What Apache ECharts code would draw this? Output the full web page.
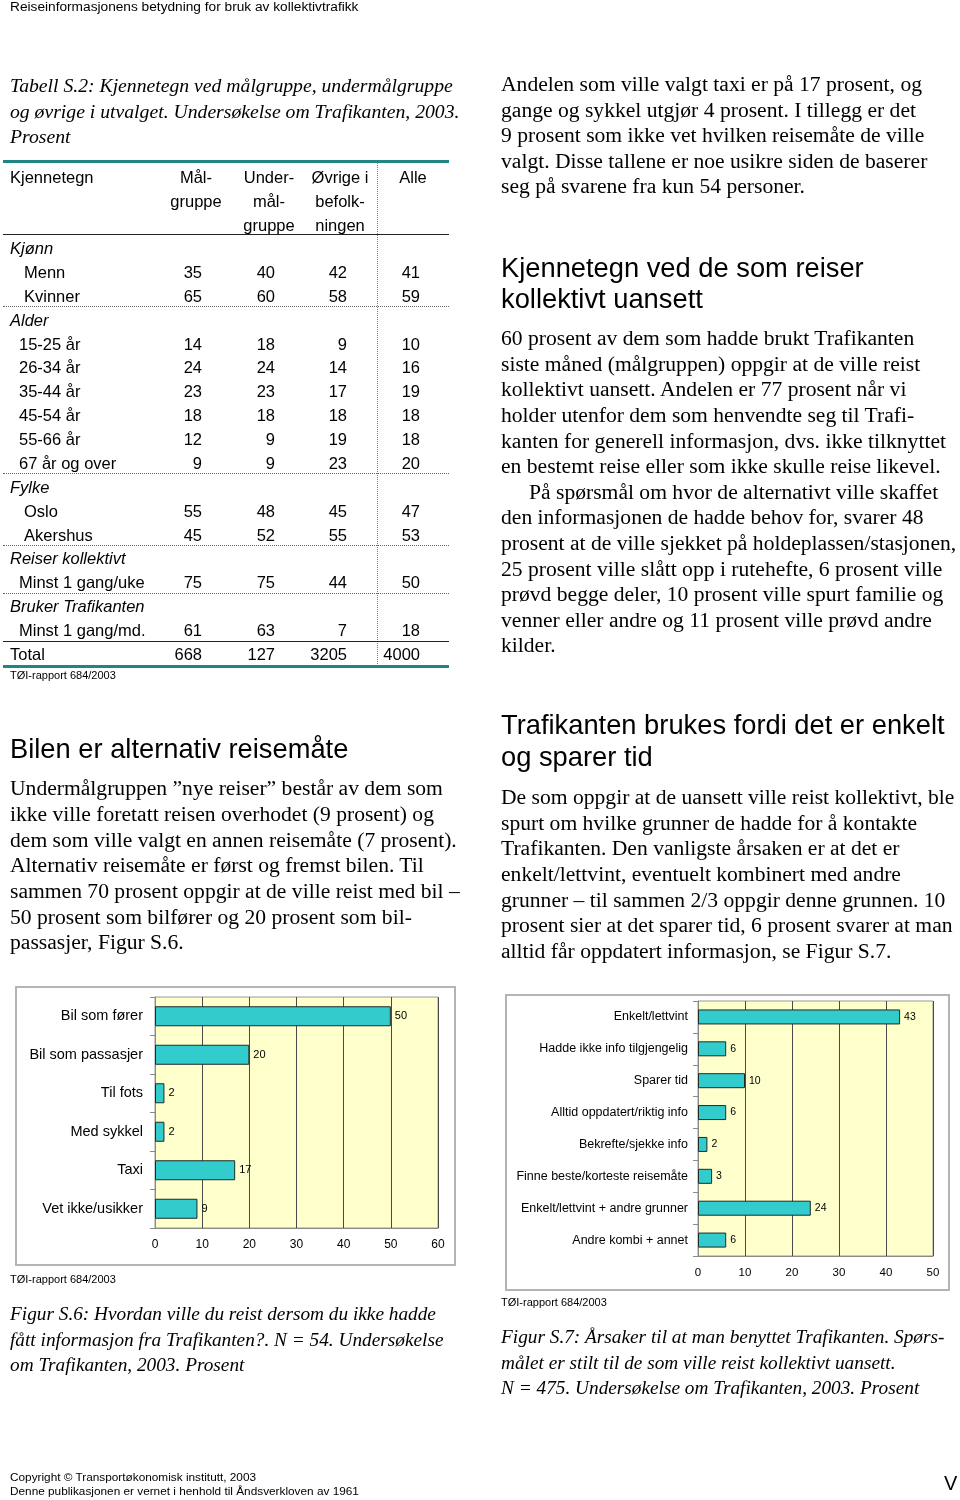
<!DOCTYPE html>
<html><head><meta charset="utf-8">
<script src="https://cdn.jsdelivr.net/npm/echarts@6/dist/echarts.min.js"></script>
<style>
html,body{margin:0;padding:0;background:#fff;}
#page{position:relative;width:960px;height:1500px;overflow:hidden;}
#chart{position:absolute;left:0;top:0;width:960px;height:1500px;}
#text{position:absolute;left:0;top:0;width:960px;height:1500px;pointer-events:none;}
.t{position:absolute;white-space:nowrap;color:#000;}
.serif{font-family:"Liberation Serif","DejaVu Serif",serif;}
.sans{font-family:"Liberation Sans",Arial,sans-serif;}
.ln{position:absolute;}
</style></head><body>
<div id="page"><div id="chart"></div><div id="text"></div></div>
<script>
// ---------- data ----------
const chart1Categories = ['Bil som fører','Bil som passasjer','Til fots','Med sykkel','Taxi','Vet ikke/usikker'];
const chart1Values = [50,20,2,2,17,9];
const chart1Ticks = [0,10,20,30,40,50,60];

const chart2Categories = ['Enkelt/lettvint','Hadde ikke info tilgjengelig','Sparer tid','Alltid oppdatert/riktig info','Bekrefte/sjekke info','Finne beste/korteste reisemåte','Enkelt/lettvint + andre grunner','Andre kombi + annet'];
const chart2Values = [43,6,10,6,2,3,24,6];
const chart2Ticks = [0,10,20,30,40,50];

const tableHeaders = [['Mål-','gruppe'],['Under-','mål-','gruppe'],['Øvrige i','befolk-','ningen'],['Alle']];
const tableGroups = ['Kjønn','Alder','Fylke','Reiser kollektivt','Bruker Trafikanten'];
const kjonnLabels = ['Menn','Kvinner'];
const kjonnValues = [[35,40,42,41],[65,60,58,59]];
const alderLabels = ['15-25 år','26-34 år','35-44 år','45-54 år','55-66 år','67 år og over'];
const alderValues = [[14,18,9,10],[24,24,14,16],[23,23,17,19],[18,18,18,18],[12,9,19,18],[9,9,23,20]];
const fylkeLabels = ['Oslo','Akershus'];
const fylkeValues = [[55,48,45,47],[45,52,55,53]];
const reiserLabels = ['Minst 1 gang/uke'];
const reiserValues = [[75,75,44,50]];
const brukerLabels = ['Minst 1 gang/md.'];
const brukerValues = [[61,63,7,18]];
const totalLabel = 'Total';
const totalValues = [668,127,3205,4000];

// ---------- text helpers ----------
const T = document.getElementById('text');
function put(x, yc, lh, lines, cls, style) {
  lines.forEach((s, i) => {
    const d = document.createElement('div');
    d.className = 't ' + cls;
    d.textContent = s;
    d.style.left = x + 'px';
    d.style.top = (yc + i * lh - lh / 2) + 'px';
    d.style.lineHeight = lh + 'px';
    d.style.height = lh + 'px';
    Object.assign(d.style, style || {});
    T.appendChild(d);
  });
}
function putRight(xr, yc, h, s, cls, style) {
  const d = document.createElement('div');
  d.className = 't ' + cls;
  d.textContent = s;
  d.style.right = (960 - xr) + 'px';
  d.style.top = (yc - h / 2) + 'px';
  d.style.lineHeight = h + 'px';
  Object.assign(d.style, style || {});
  T.appendChild(d);
}
function putCenter(xc, yc, h, s, cls, style) {
  const d = document.createElement('div');
  d.className = 't ' + cls;
  d.textContent = s;
  d.style.left = (xc - 100) + 'px';
  d.style.width = '200px';
  d.style.textAlign = 'center';
  d.style.top = (yc - h / 2) + 'px';
  d.style.lineHeight = h + 'px';
  Object.assign(d.style, style || {});
  T.appendChild(d);
}
function hline(x, y, w, css) {
  const d = document.createElement('div');
  d.className = 'ln';
  d.style.left = x + 'px'; d.style.top = y + 'px'; d.style.width = w + 'px';
  d.style.borderTop = css;
  T.appendChild(d);
}
function vline(x, y, h, css) {
  const d = document.createElement('div');
  d.className = 'ln';
  d.style.left = x + 'px'; d.style.top = y + 'px'; d.style.height = h + 'px';
  d.style.borderLeft = css;
  T.appendChild(d);
}

const BODY = {fontSize:'21.6px'};
const HEAD = {fontSize:'27.3px'};

// Header
put(10, 7, 16, ['Reiseinformasjonens betydning for bruk av kollektivtrafikk'], 'sans', {fontSize:'13.7px'});

// Table caption
put(10, 86, 25.5, ['Tabell S.2: Kjennetegn ved målgruppe, undermålgruppe',
  'og øvrige i utvalget. Undersøkelse om Trafikanten, 2003.',
  'Prosent'], 'serif', {fontSize:'19.7px', fontStyle:'italic'});

// Table
const TF = {fontSize:'16.5px'};
hline(3, 160, 446, '3px solid #1f8585');
vline(377, 163, 503, '1px dotted #777');
put(10, 177, 22, ['Kjennetegn'], 'sans', TF);
const colRight = [202, 275, 347, 420];
const colCenter = [196, 269, 340, 413];
tableHeaders.forEach((h, c) => h.forEach((s, r) => putCenter(colCenter[c], 177 + r * 24, 22, s, 'sans', TF)));
hline(3, 234, 446, '1.5px solid #222');

const blocks = [
  {labels: kjonnLabels, values: kjonnValues, indent: 24},
  {labels: alderLabels, values: alderValues, indent: 19},
  {labels: fylkeLabels, values: fylkeValues, indent: 24},
  {labels: reiserLabels, values: reiserValues, indent: 19},
  {labels: brukerLabels, values: brukerValues, indent: 19}
];
const RH = 23.88;
let row = 0;
blocks.forEach((b, gi) => {
  put(10, 248 + row * RH, 22, [tableGroups[gi]], 'sans', Object.assign({fontStyle:'italic'}, TF));
  row++;
  b.labels.forEach((lab, i) => {
    const yc = 248 + row * RH;
    put(b.indent, yc, 22, [lab], 'sans', TF);
    b.values[i].forEach((v, c) => putRight(colRight[c], yc, 22, String(v), 'sans', TF));
    row++;
  });
  const ly = 248 + (row - 1) * RH + 10.5;
  if (gi < blocks.length - 1) hline(3, ly, 446, '1px dotted #666');
  else hline(3, ly, 446, '1.5px solid #222');
});
{
  const yc = 248 + row * RH;
  put(10, yc, 22, [totalLabel], 'sans', TF);
  totalValues.forEach((v, c) => putRight(colRight[c], yc, 22, String(v), 'sans', TF));
}
hline(3, 665, 446, '3px solid #1f8585');
put(10, 675, 13, ['TØI-rapport 684/2003'], 'sans', {fontSize:'11px'});

// Left section
put(10, 749, 32, ['Bilen er alternativ reisemåte'], 'sans', HEAD);
put(10, 789, 25.67, ['Undermålgruppen ”nye reiser” består av dem som',
  'ikke ville foretatt reisen overhodet (9 prosent) og',
  'dem som ville valgt en annen reisemåte (7 prosent).',
  'Alternativ reisemåte er først og fremst bilen. Til',
  'sammen 70 prosent oppgir at de ville reist med bil –',
  '50 prosent som bilfører og 20 prosent som bil-',
  'passasjer, Figur S.6.'], 'serif', BODY);

// Right column
put(501, 85, 25.5, ['Andelen som ville valgt taxi er på 17 prosent, og',
  'gange og sykkel utgjør 4 prosent. I tillegg er det',
  '9 prosent som ikke vet hvilken reisemåte de ville',
  'valgt. Disse tallene er noe usikre siden de baserer',
  'seg på svarene fra kun 54 personer.'], 'serif', BODY);
put(501, 267, 31, ['Kjennetegn ved de som reiser', 'kollektivt uansett'], 'sans', HEAD);
put(501, 339, 25.6, ['60 prosent av dem som hadde brukt Trafikanten',
  'siste måned (målgruppen) oppgir at de ville reist',
  'kollektivt uansett. Andelen er 77 prosent når vi',
  'holder utenfor dem som henvendte seg til Trafi-',
  'kanten for generell informasjon, dvs. ikke tilknyttet',
  'en bestemt reise eller som ikke skulle reise likevel.'], 'serif', BODY);
put(529, 339 + 6 * 25.6, 25.6, ['På spørsmål om hvor de alternativt ville skaffet'], 'serif', BODY);
put(501, 339 + 7 * 25.6, 25.6, ['den informasjonen de hadde behov for, svarer 48',
  'prosent at de ville sjekket på holdeplassen/stasjonen,',
  '25 prosent ville slått opp i rutehefte, 6 prosent ville',
  'prøvd begge deler, 10 prosent ville spurt familie og',
  'venner eller andre og 11 prosent ville prøvd andre',
  'kilder.'], 'serif', BODY);
put(501, 725, 32, ['Trafikanten brukes fordi det er enkelt', 'og sparer tid'], 'sans', HEAD);
put(501, 798, 25.6, ['De som oppgir at de uansett ville reist kollektivt, ble',
  'spurt om hvilke grunner de hadde for å kontakte',
  'Trafikanten. Den vanligste årsaken er at det er',
  'enkelt/lettvint, eventuelt kombinert med andre',
  'grunner – til sammen 2/3 oppgir denne grunnen. 10',
  'prosent sier at det sparer tid, 6 prosent svarer at man',
  'alltid får oppdatert informasjon, se Figur S.7.'], 'serif', BODY);

// Chart sources & captions
put(10, 1279, 13, ['TØI-rapport 684/2003'], 'sans', {fontSize:'11px'});
put(501, 1302, 13, ['TØI-rapport 684/2003'], 'sans', {fontSize:'11px'});
put(10, 1314, 25.5, ['Figur S.6: Hvordan ville du reist dersom du ikke hadde',
  'fått informasjon fra Trafikanten?. N = 54. Undersøkelse',
  'om Trafikanten, 2003. Prosent'], 'serif', {fontSize:'19.3px', fontStyle:'italic'});
put(501, 1337, 25.5, ['Figur S.7: Årsaker til at man benyttet Trafikanten. Spørs-',
  'målet er stilt til de som ville reist kollektivt uansett.',
  'N = 475. Undersøkelse om Trafikanten, 2003. Prosent'], 'serif', {fontSize:'19.3px', fontStyle:'italic'});

// Footer
put(10, 1478, 13.5, ['Copyright © Transportøkonomisk institutt, 2003',
  'Denne publikasjonen er vernet i henhold til Åndsverkloven av 1961'], 'sans', {fontSize:'11.8px'});
put(944, 1483, 24, ['V'], 'sans', {fontSize:'20px'});

// ---------- charts ----------
const FF = '"Liberation Sans", Arial, sans-serif';
function valueAxis(gi, ticks, fs) {
  return {
    gridIndex: gi, type: 'value', min: ticks[0], max: ticks[ticks.length - 1], interval: ticks[1] - ticks[0],
    axisLine: {show: true, lineStyle: {color: '#8a8a8a', width: 1}},
    axisTick: {show: false},
    splitLine: {show: true, lineStyle: {color: '#4a4a4a', width: 1}},
    axisLabel: {fontSize: fs, color: '#000', margin: 11, fontFamily: FF}
  };
}
function catAxis(gi, cats, fs, margin) {
  return {
    gridIndex: gi, type: 'category', inverse: true, data: cats,
    axisLine: {show: true, lineStyle: {color: '#8a8a8a', width: 1}},
    axisTick: {show: true, length: 5, lineStyle: {color: '#8a8a8a'}},
    axisLabel: {fontSize: fs, color: '#000', margin: margin, fontFamily: FF}
  };
}
function barSeries(idx, vals, bw, fs) {
  return {
    type: 'bar', xAxisIndex: idx, yAxisIndex: idx, data: vals, barWidth: bw,
    itemStyle: {color: '#33cccc', borderColor: '#1e2a2a', borderWidth: 1},
    label: {show: true, position: 'right', distance: 4, fontSize: fs, color: '#000', fontFamily: FF}
  };
}
const chart = echarts.init(document.getElementById('chart'), null, {renderer: 'canvas'});
chart.setOption({
  animation: false,
  graphic: [
    {type: 'rect', silent: true, shape: {x: 16, y: 987, width: 439, height: 278}, style: {fill: 'none', stroke: '#b4b4b4', lineWidth: 2}},
    {type: 'rect', silent: true, shape: {x: 506, y: 995, width: 443, height: 295}, style: {fill: 'none', stroke: '#b4b4b4', lineWidth: 2}}
  ],
  grid: [
    {left: 155, top: 997, width: 283, height: 231, show: true, backgroundColor: '#ffffcc', borderColor: '#9a9a9a', borderWidth: 1},
    {left: 698, top: 1001, width: 235, height: 255, show: true, backgroundColor: '#ffffcc', borderColor: '#9a9a9a', borderWidth: 1}
  ],
  xAxis: [valueAxis(0, chart1Ticks, 12), valueAxis(1, chart2Ticks, 11.5)],
  yAxis: [catAxis(0, chart1Categories, 14.5, 12), catAxis(1, chart2Categories, 12.5, 10)],
  series: [barSeries(0, chart1Values, 20, 11), barSeries(1, chart2Values, 15, 10.5)]
});
</script>
</body></html>
